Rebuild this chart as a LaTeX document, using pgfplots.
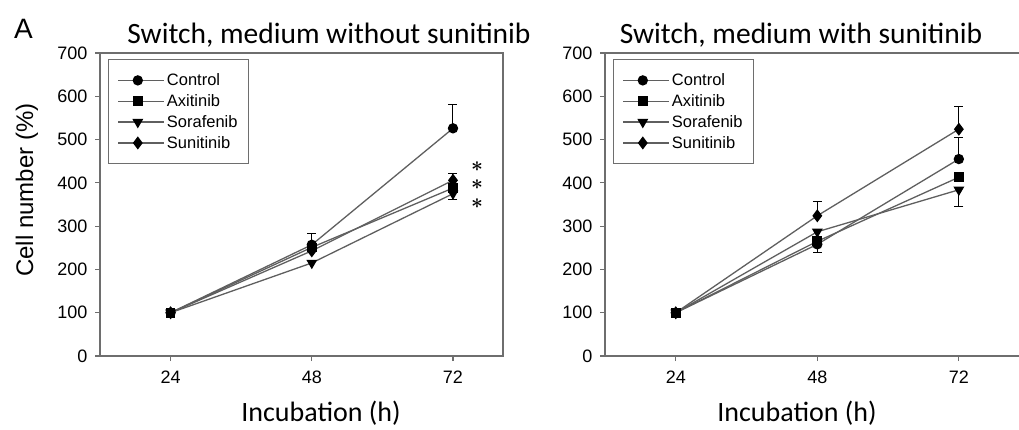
\documentclass[border=0pt]{standalone}
\usepackage{pgfplots}
\pgfplotsset{compat=1.18}
\usepackage{bm}
\usepackage{fontspec}
\setmainfont{Liberation Sans}
\newfontfamily\calfont{Carlito}

\definecolor{axgray}{RGB}{110,110,110}
\definecolor{lngray}{RGB}{95,95,95}

\pgfplotsset{
  panel/.style={
    scale only axis,
    anchor=south west,
    height=303pt,
    xmin=12, ymin=0, ymax=700,
    xtick={24,48,72}, ytick={0,100,...,700},
    xtick pos=left, ytick pos=left,
    tick align=outside, major tick length=5pt,
    every tick/.style={axgray, line width=1.2pt},
    axis line style={axgray, line width=1.3pt},
    /pgf/number format/assume math mode=true,
    ticklabel style={font=\fontsize{18}{18}\selectfont},
    yticklabel style={xshift=-4pt},
    xticklabel style={yshift=-6pt},
    legend style={at={(0,1)}, anchor=north west, xshift=8pt, yshift=-6pt,
      draw=axgray, line width=1.3pt, fill=white,
      font=\fontsize{16.5}{19}\selectfont, cells={anchor=west},
      inner xsep=9pt, inner ysep=12pt, row sep=3.4pt},
    legend image code/.code={
      \draw[mark repeat=2, mark phase=2] plot coordinates {(0pt,0pt) (19.5pt,0pt) (39pt,0pt)};
      \path (39pt,0pt) -- (46pt,0pt);},
    error bars/error bar style={black, line width=1pt},
    error bars/error mark options={rotate=90, mark size=4.5pt, black, line width=1pt},
  },
  ctl/.style={lngray, line width=1.3pt, mark=*, mark size=4.5pt, mark options={fill=black, draw=black}},
  axi/.style={lngray, line width=1.3pt, mark=square*, mark size=4.2pt, mark options={fill=black, draw=black}},
  sor/.style={lngray, line width=1.3pt, mark=triangle*, mark size=5pt, mark options={fill=black, draw=black, rotate=180}},
  sun/.style={lngray, line width=1.3pt, mark=diamond*, mark size=5.5pt, mark options={fill=black, draw=black}},
}

\begin{document}
\begin{tikzpicture}[x=1pt, y=1pt]
\useasboundingbox (0,0) rectangle (1019,-429);

% left panel
\begin{axis}[panel, at={(100pt,-356pt)}, width=403pt, xmax=80.5]
\addplot[ctl, error bars/.cd, y dir=plus, y explicit] coordinates {
  (24,100) (48,257) +- (0,25) (72,526) +- (0,54)
};
\addplot[axi] coordinates {
  (24,100) (48,251) (72,388)
};
\addplot[sor, error bars/.cd, y dir=minus, y explicit] coordinates {
  (24,100) (48,215) (72,375) +- (0,13)
};
\addplot[sun, error bars/.cd, y dir=plus, y explicit] coordinates {
  (24,100) (48,243) (72,406) +- (0,16)
};
\legend{Control, Axitinib, Sorafenib, Sunitinib}
\node[inner sep=0pt, font=\fontsize{20}{20}\selectfont] at (axis cs:76.1,437) {$\bm{\ast}$};
\node[inner sep=0pt, font=\fontsize{20}{20}\selectfont] at (axis cs:76.1,395) {$\bm{\ast}$};
\node[inner sep=0pt, font=\fontsize{20}{20}\selectfont] at (axis cs:76.1,351) {$\bm{\ast}$};
\end{axis}

% right panel
\begin{axis}[panel, at={(605pt,-356pt)}, width=414pt, xmax=82.2,
  axis x line*=box, axis y line*=left]
\addplot[ctl, error bars/.cd, y dir=plus, y explicit] coordinates {
  (24,100) (48,258) (72,455) +- (0,49)
};
\addplot[axi, error bars/.cd, y dir=minus, y explicit] coordinates {
  (24,100) (48,265) +- (0,26) (72,413)
};
\addplot[sor, error bars/.cd, y dir=minus, y explicit] coordinates {
  (24,100) (48,287) (72,384) +- (0,38)
};
\addplot[sun, error bars/.cd, y dir=plus, y explicit] coordinates {
  (24,100) (48,324) +- (0,34) (72,524) +- (0,53)
};
\legend{Control, Axitinib, Sorafenib, Sunitinib}
\end{axis}

% titles and labels
\node[anchor=base] at (329,-43) {\calfont\fontsize{29.5}{30}\selectfont Switch, medium without sunitinib};
\node[anchor=base] at (801,-43) {\calfont\fontsize{29.5}{30}\selectfont Switch, medium with sunitinib};
\node[anchor=base west, inner sep=0pt] at (14,-38) {\fontsize{28}{28}\selectfont A};
\node[anchor=base] at (321,-421) {\calfont\fontsize{28}{28}\selectfont Incubation (h)};
\node[anchor=base] at (797,-421) {\calfont\fontsize{28}{28}\selectfont Incubation (h)};
\node[rotate=90, anchor=base] at (33,-190) {\fontsize{24}{24}\selectfont Cell number (\%)};
\end{tikzpicture}
\end{document}
